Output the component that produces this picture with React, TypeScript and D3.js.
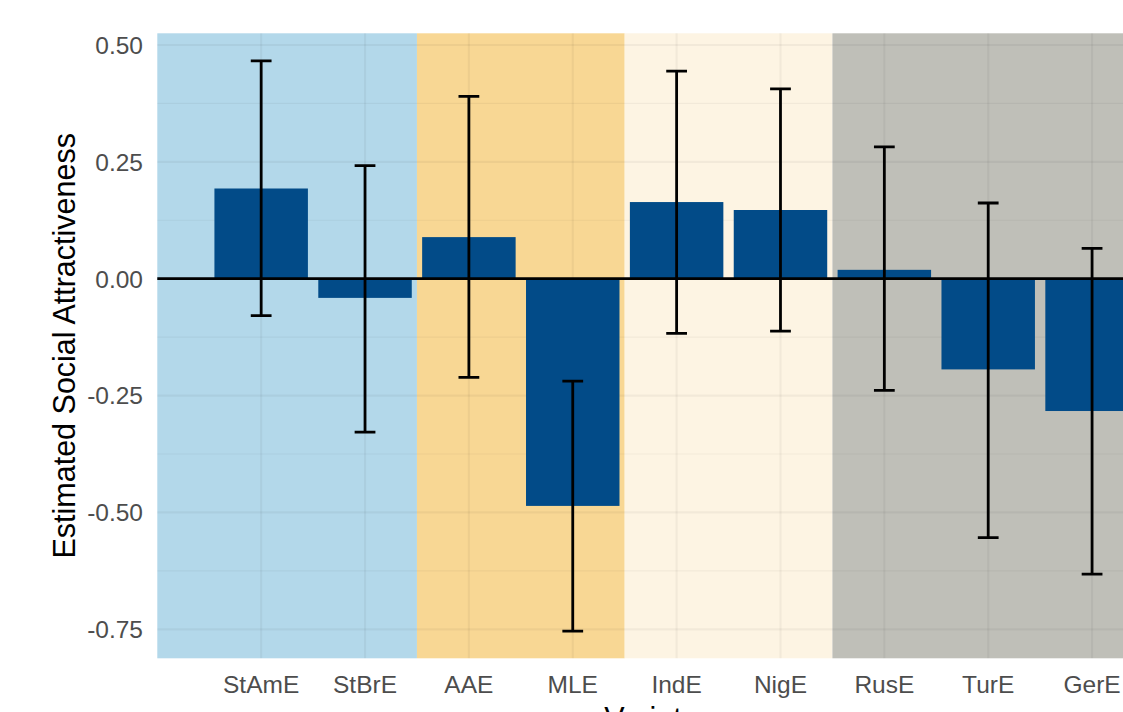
import React, { useEffect, useRef } from 'react';
import * as d3 from 'd3';

const varieties = ['StAmE', 'StBrE', 'AAE', 'MLE', 'IndE', 'NigE', 'RusE', 'TurE', 'GerE'];
const estimates = [0.193, -0.041, 0.089, -0.486, 0.164, 0.147, 0.019, -0.194, -0.283];
const lowerCI = [-0.079, -0.328, -0.211, -0.754, -0.117, -0.112, -0.239, -0.554, -0.632];
const upperCI = [0.466, 0.242, 0.390, -0.219, 0.444, 0.406, 0.282, 0.162, 0.065];

// background groups: [start position, end position, colour]
const groupStarts = [0, 2.5, 4.5, 6.5];
const groupEnds = [2.5, 4.5, 6.5, 9.5];
const groupColors = ['#b3d8ea', '#f8d794', '#fdf4e3', '#bfbfb8'];

const majorTicks = [0.5, 0.25, 0, -0.25, -0.5, -0.75];
const minorTicks = [0.375, 0.125, -0.125, -0.375, -0.625];

const W = 1123;
const H = 712;

const App: React.FC = () => {
    const svgRef = useRef<SVGSVGElement>(null);

    useEffect(() => {
        if (!svgRef.current) return;
        const svg = d3.select(svgRef.current);
        svg.selectAll('*').remove();

        const panel = { left: 157.3, right: 1144, top: 33.3, bottom: 658.3 };

        // positions 1..9 for categories, panel spans 0..9.5
        const x = d3.scaleLinear().domain([0, 9.5]).range([panel.left, panel.right]);
        const y = d3.scaleLinear().domain([-0.812, 0.525]).range([panel.bottom, panel.top]);
        const pos = (i: number) => x(i + 1);
        const step = x(1) - x(0);

        svg.append('rect').attr('width', W).attr('height', H).attr('fill', '#ffffff');

        // group backgrounds
        svg.append('g')
            .selectAll('rect')
            .data(groupColors)
            .enter()
            .append('rect')
            .attr('x', (_d, i) => x(groupStarts[i]))
            .attr('width', (_d, i) => x(groupEnds[i]) - x(groupStarts[i]))
            .attr('y', panel.top)
            .attr('height', panel.bottom - panel.top)
            .attr('fill', d => d);

        // grid lines
        const grid = svg.append('g').attr('stroke', 'rgba(0,0,0,0.045)');
        grid.selectAll('.minor')
            .data(minorTicks)
            .enter()
            .append('line')
            .attr('x1', panel.left).attr('x2', panel.right)
            .attr('y1', d => y(d)).attr('y2', d => y(d))
            .attr('stroke-width', 1.1);
        grid.selectAll('.major')
            .data(majorTicks)
            .enter()
            .append('line')
            .attr('x1', panel.left).attr('x2', panel.right)
            .attr('y1', d => y(d)).attr('y2', d => y(d))
            .attr('stroke-width', 2.2);
        grid.selectAll('.vert')
            .data(varieties)
            .enter()
            .append('line')
            .attr('x1', (_d, i) => pos(i)).attr('x2', (_d, i) => pos(i))
            .attr('y1', panel.top).attr('y2', panel.bottom)
            .attr('stroke-width', 2.2);

        // bars
        const barW = step * 0.9;
        svg.append('g')
            .selectAll('rect')
            .data(estimates)
            .enter()
            .append('rect')
            .attr('x', (_d, i) => pos(i) - barW / 2)
            .attr('width', barW)
            .attr('y', d => y(Math.max(0, d)))
            .attr('height', d => Math.abs(y(d) - y(0)))
            .attr('fill', '#024b88');

        // zero line
        svg.append('line')
            .attr('x1', panel.left).attr('x2', panel.right)
            .attr('y1', y(0)).attr('y2', y(0))
            .attr('stroke', '#000')
            .attr('stroke-width', 2.8);

        // error bars
        const capW = step * 0.2;
        const err = svg.append('g').attr('stroke', '#000').attr('stroke-width', 2.8).attr('fill', 'none');
        varieties.forEach((_v, i) => {
            const cx = pos(i);
            err.append('path')
                .attr('d', `M${cx - capW / 2},${y(upperCI[i])}H${cx + capW / 2}M${cx},${y(upperCI[i])}V${y(lowerCI[i])}M${cx - capW / 2},${y(lowerCI[i])}H${cx + capW / 2}`);
        });

        // y tick labels (plain hyphen for negatives, as in the original)
        const fmt = (d: number) => d3.format('.2f')(d).replace('\u2212', '-');
        svg.append('g')
            .selectAll('text')
            .data(majorTicks)
            .enter()
            .append('text')
            .attr('x', 143)
            .attr('y', d => y(d))
            .attr('dy', '0.36em')
            .attr('text-anchor', 'end')
            .attr('fill', '#4d4d4d')
            .style('font-family', '"Liberation Sans", Arial, sans-serif')
            .style('font-size', '24.5px')
            .text(d => fmt(d));

        // x tick labels
        svg.append('g')
            .selectAll('text')
            .data(varieties)
            .enter()
            .append('text')
            .attr('x', (_d, i) => pos(i))
            .attr('y', 693)
            .attr('text-anchor', 'middle')
            .attr('fill', '#4d4d4d')
            .style('font-family', '"Liberation Sans", Arial, sans-serif')
            .style('font-size', '24.5px')
            .text(d => d);

        // axis titles
        svg.append('text')
            .attr('transform', `translate(75,${(panel.top + panel.bottom) / 2}) rotate(-90)`)
            .attr('text-anchor', 'middle')
            .attr('fill', '#000')
            .style('font-family', '"Liberation Sans", Arial, sans-serif')
            .style('font-size', '30.5px')
            .text('Estimated Social Attractiveness');

        svg.append('text')
            .attr('x', (panel.left + panel.right) / 2)
            .attr('y', 729)
            .attr('text-anchor', 'middle')
            .attr('fill', '#000')
            .style('font-family', '"Liberation Sans", Arial, sans-serif')
            .style('font-size', '30.5px')
            .text('Variety');
    }, []);

    return (
        <svg
            ref={svgRef}
            width={W}
            height={H}
            style={{ position: 'fixed', left: 0, top: 0, display: 'block' }}
        />
    );
};

export default App;
